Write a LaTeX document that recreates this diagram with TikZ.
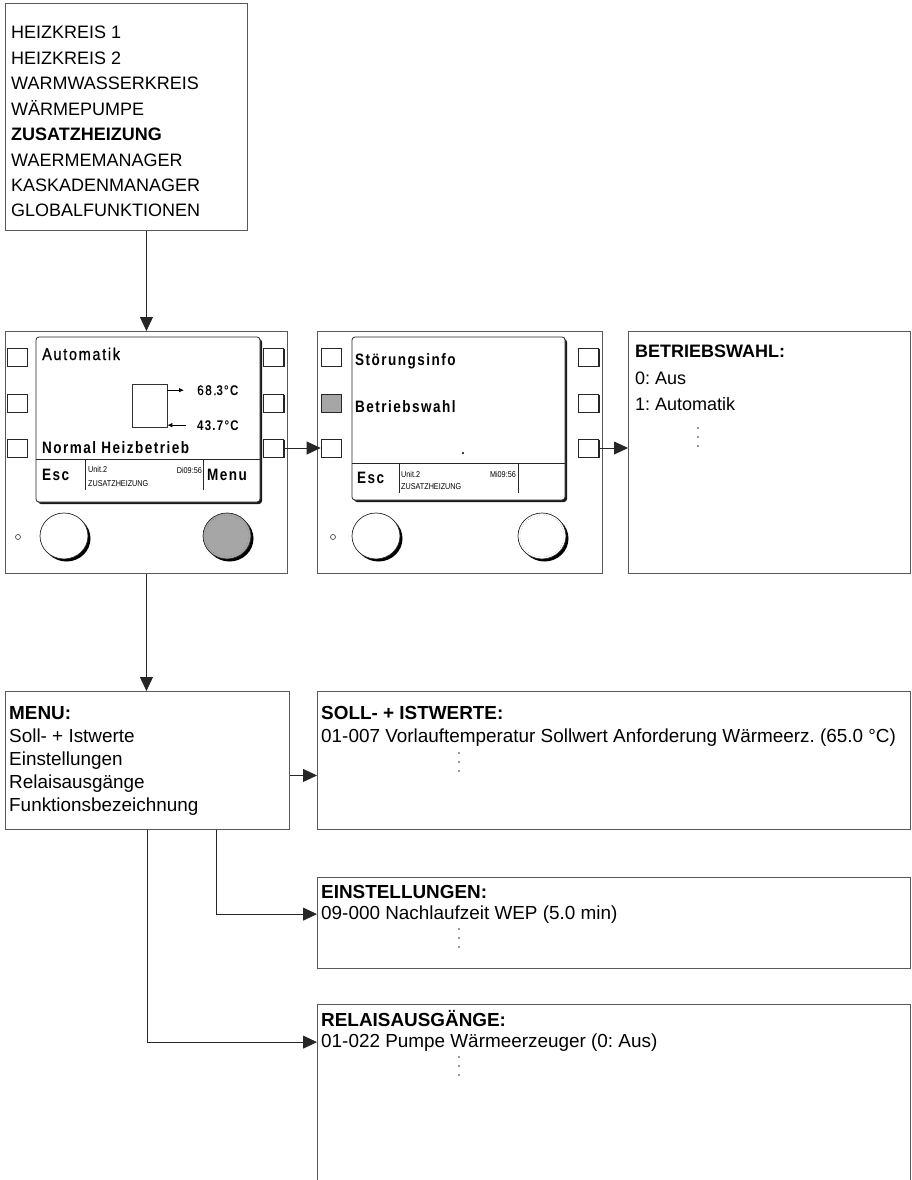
\documentclass[tikz,border=0pt]{standalone}
\usepackage{fontspec}
\setmainfont{Liberation Sans}
\newfontfamily\lcd[FakeStretch=0.85,LetterSpace=10,FakeBold=0.8]{Liberation Sans}
\newfontfamily\lcdbf[FakeStretch=0.82,LetterSpace=9]{Liberation Sans}
\newfontfamily\lcdklein[FakeStretch=0.85]{Liberation Sans}
\usetikzlibrary{arrows.meta,positioning,calc,shadows}
\frenchspacing

\tikzset{
  listbox/.style={draw=black!65, line width=0.9pt, inner sep=0pt, anchor=north west},
  listtext/.style={anchor=base west, inner sep=0pt, font=\fontsize{18}{21}\selectfont},
  menutext/.style={anchor=base west, inner sep=0pt, font=\fontsize{18.9}{22}\selectfont},
  taste/.style={draw=black!85, fill=white, line width=0.7pt, minimum width=20pt, minimum height=18pt, inner sep=0pt,
    drop shadow={shadow xshift=1.4pt, shadow yshift=-1.4pt, fill=black!85, opacity=1}},
  schirm/.style={draw=black!85, fill=white, line width=0.8pt, rounded corners=3pt,
    drop shadow={shadow xshift=2pt, shadow yshift=-2pt, fill=black!90, opacity=1}},
  lcdtext/.style={anchor=base west, inner sep=0pt, font=\lcd\fontsize{17}{17}\selectfont},
  lcdfett/.style={anchor=base west, inner sep=0pt, font=\lcdbf\bfseries\fontsize{16.5}{16.5}\selectfont},
  klein/.style={anchor=base west, inner sep=0pt, font=\lcdklein\fontsize{8.5}{9}\selectfont},
  verb/.style={draw=black!85, line width=0.8pt, -{Triangle[length=14pt,width=13pt]}},
  zeiger/.style={black, line width=0.8pt, -{Latex[length=5pt,width=4.5pt]}},
  punkte/.pic={\foreach \d in {0,9,18} \fill[black!80] (0,\d) circle (0.9pt);},
  knopf/.pic={\fill[black] (2.5pt,-2.5pt) ellipse (24pt and 23pt);
    \draw[black!85, line width=0.7pt, fill=#1] (0,0) ellipse (24pt and 23pt);}
}

\begin{document}
\begin{tikzpicture}[x=1pt,y=-1pt]
  \useasboundingbox (0,0) rectangle (912,1180);
  % Modulauswahl
  \node[listbox, minimum width=242, minimum height=227] (module) at (5,3) {};
  \foreach \t [count=\i from 0] in {HEIZKREIS 1,HEIZKREIS 2,WARMWASSERKREIS,WÄRMEPUMPE,\textbf{ZUSATZHEIZUNG},WAERMEMANAGER,KASKADENMANAGER,GLOBALFUNKTIONEN}
    \node[listtext] (modul\i) at (11,39+25.4*\i) {\t};

  % Anzeige Grundbild
  \node[listbox, minimum width=282, minimum height=242] (anzeige) at (5,331) {};
  \begin{scope}[shift={(anzeige.north west)}]
    \path[schirm] (31,6) rectangle (255,171);
    \foreach \y [count=\k] in {26,72,117} {
      \node[taste] (a1l\k) at (12,\y) {};
      \node[taste] (a1r\k) at (268.5,\y) {};
    }
    \node[lcdtext] (a1modus) at (37,29) {Automatik};
    \node[draw=black!80, line width=0.6pt, minimum width=35, minimum height=43, inner sep=0pt] (a1kessel) at (144.5,74.5) {};
    \node[lcdtext, font=\lcd\fontsize{14}{14}\selectfont] (a1vorlauf) at (192,64) {68.{\lcdbf\bfseries 3°C}};
    \node[lcdfett, font=\lcdbf\bfseries\fontsize{14}{14}\selectfont] (a1ruecklauf) at (192,99) {43.7°C};
    \draw[zeiger] (a1kessel.east |- a1vorlauf.west) -- ([xshift=-13pt]a1vorlauf.west);
    \draw[zeiger] ([xshift=-11pt]a1ruecklauf.west) -- (a1kessel.east |- a1ruecklauf.west);
    \node[lcdfett] (a1status) at (37,122) {Normal Heizbetrieb};
    % Fusszeile
    \draw[black!85, line width=0.7pt] (31,128) -- (255,128);
    \draw[black!85, line width=0.7pt] (80,128) -- (80,159) (198,128) -- (198,159);
    \node[lcdfett] (a1esc) at (37,149) {Esc};
    \node[lcdfett] (a1menu) at (202,149) {Menu};
    \node[klein] (a1unit) at (83,141) {Unit.2};
    \node[klein] (a1modul) at (83,155) {ZUSATZHEIZUNG};
    \node[klein, anchor=base east] (a1zeit) at (197,142) {Di09:56};
    % Knoepfe
    \draw[black!80, line width=0.6pt] (13,206) circle (2.5pt);
    \pic at (59,205) {knopf=white};
    \pic at (222,205) {knopf=black!35};
    \draw[dotted, black!60] (222,205) ellipse (22pt and 21pt);
  \end{scope}

  % Anzeige Auswahl
  \node[listbox, minimum width=285, minimum height=242] (auswahl) at (317,331) {};
  \begin{scope}[shift={(auswahl.north west)}]
    \path[schirm] (35,6) rectangle (248,169);
    \node[taste] (a2l1) at (14,26) {};
    \node[taste, fill=black!35] (a2l2) at (14,72) {};
    \node[taste] (a2l3) at (14,117) {};
    \foreach \y [count=\k] in {26,72,117}
      \node[taste] (a2r\k) at (271.5,\y) {};
    \node[lcdfett] (a2info) at (38,34) {Störungsinfo};
    \node[lcdfett] (a2wahl) at (38,81) {Betriebswahl};
    \fill[black] (146,122) circle (1.1pt);
    % Fusszeile
    \draw[black!85, line width=0.7pt] (35,132) -- (248,132);
    \draw[black!85, line width=0.7pt] (82,132) -- (82,162) (201,132) -- (201,162);
    \node[lcdfett] (a2esc) at (40,152) {Esc};
    \node[klein] (a2unit) at (84,146) {Unit.2};
    \node[klein] (a2modul) at (84,158) {ZUSATZHEIZUNG};
    \node[klein, anchor=base east] (a2zeit) at (199,146) {Mi09:56};
    % Knoepfe
    \draw[black!80, line width=0.6pt] (16,206) circle (2.5pt);
    \pic at (59,205) {knopf=white};
    \pic at (225,205) {knopf=white};
    \draw[dotted, black!60] (225,205) ellipse (22pt and 21pt);
  \end{scope}

  % Betriebswahl
  \node[listbox, minimum width=282, minimum height=242] (wahl) at (628,331) {};
  \node[listtext, font=\bfseries\fontsize{18}{21}\selectfont] (wahlkopf) at (635,357) {BETRIEBSWAHL:};
  \node[listtext] (wahl0) at (635,384) {0: Aus};
  \node[listtext] (wahl1) at (635,410) {1: Automatik};
  \pic at (698,428) {punkte};

  % Menue
  \node[listbox, minimum width=284, minimum height=138] (menu) at (5,691) {};
  \foreach \t [count=\i from 0] in {\textbf{MENU:},Soll- + Istwerte,Einstellungen,Relaisausgänge,Funktionsbezeichnung}
    \node[menutext] (menu\i) at (9,719+23*\i) {\t};

  % Soll- und Istwerte
  \node[listbox, minimum width=593, minimum height=138] (soll) at (317,691) {};
  \node[menutext, font=\bfseries\fontsize{18.9}{22}\selectfont] (sollkopf) at (321,719) {SOLL- + ISTWERTE:};
  \node[menutext] (soll1) at (321,742) {01-007 Vorlauftemperatur Sollwert Anforderung Wärmeerz. (65.0 °C)};
  \pic at (459,753) {punkte};

  % Einstellungen
  \node[listbox, minimum width=593, minimum height=91] (einst) at (317,877) {};
  \node[menutext, font=\bfseries\fontsize{18.9}{22}\selectfont] (einstkopf) at (321,898) {EINSTELLUNGEN:};
  \node[menutext] (einst1) at (321,919) {09-000 Nachlaufzeit WEP (5.0 min)};
  \pic at (459,929) {punkte};

  % Relaisausgaenge (unten offen)
  \node[inner sep=0pt, anchor=north west, minimum width=593, minimum height=176] (relais) at (317,1004) {};
  \draw[black!65, line width=0.9pt] (relais.south west) -- (relais.north west) -- (relais.north east) -- (relais.south east);
  \node[menutext, font=\bfseries\fontsize{18.9}{22}\selectfont] (relaiskopf) at (321,1026) {RELAISAUSGÄNGE:};
  \node[menutext] (relais1) at (321,1047) {01-022 Pumpe Wärmeerzeuger (0: Aus)};
  \pic at (459,1057) {punkte};

  % Verbindungen
  \draw[verb] (module.south -| anzeige.north) -- (anzeige.north);
  \draw[verb] (a1r3.east) -- (a2l3.west);
  \draw[verb] (a2r3.east) -- (a2r3.east -| wahl.west);
  \draw[verb] (anzeige.south) -- (anzeige.south |- menu.north);
  \draw[verb] ($(menu.east)+(0,15)$) -- ($(soll.west)+(0,15)$);
  \coordinate (abzweig) at ($(menu.south west)+(211,0)$);
  \draw[verb] (abzweig) |- (einst.west |- einst1.west);
  \draw[verb] (menu.south) |- (relais.west |- relais1.west);
\end{tikzpicture}
\end{document}
